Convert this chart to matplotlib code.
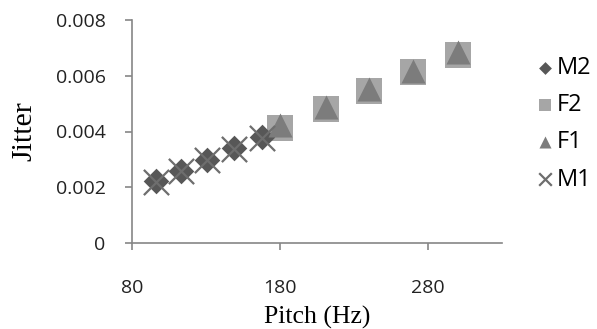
import matplotlib
matplotlib.use("Agg")
import matplotlib.pyplot as plt

m_pitch = [96, 113, 131, 149, 168]
m2_jitter = [0.00222, 0.00260, 0.00298, 0.00340, 0.00380]
m1_jitter = [0.00220, 0.00258, 0.00296, 0.00338, 0.00378]
f_pitch = [180, 211, 240, 270, 300]
f2_jitter = [0.00412, 0.00482, 0.00545, 0.00612, 0.00674]
f1_jitter = [0.00425, 0.00488, 0.00552, 0.00618, 0.00685]
x_ticks = [80, 180, 280]
y_ticks = [0, 0.002, 0.004, 0.006, 0.008]
y_labels = ["0", "0.002", "0.004", "0.006", "0.008"]

W, H = 597, 329
fig = plt.figure(figsize=(W / 100, H / 100), dpi=100)
ax = fig.add_axes([132 / W, 1 - 243 / H, (502 - 132) / W, (243 - 20) / H])

ax.scatter(m_pitch, m2_jitter, marker="D", s=170, color="#575757", label="M2", zorder=3, linewidths=0)
ax.scatter(f_pitch, f2_jitter, marker="s", s=330, color="#a6a6a6", label="F2", zorder=2, linewidths=0)
ax.scatter(f_pitch, f1_jitter, marker="^", s=300, color="#7c7c7c", label="F1", zorder=4, linewidths=0)
ax.scatter(m_pitch, m1_jitter, marker="x", s=330, color="#6e6e6e", label="M1", zorder=5, linewidths=1.6)

ax.set_xlim(80, 330)
ax.set_ylim(0, 0.008)
ax.set_xticks(x_ticks)
ax.set_yticks(y_ticks)
ax.set_yticklabels(y_labels)

for s in ["top", "right"]:
    ax.spines[s].set_visible(False)
for s in ["left", "bottom"]:
    ax.spines[s].set_color("#868686")
    ax.spines[s].set_linewidth(1.2)
ax.tick_params(axis="both", colors="#868686", labelcolor="#222222", length=5, width=1.2,
               labelsize=14)
ax.tick_params(axis="x", pad=21)
ax.tick_params(axis="y", pad=14)
for lab in ax.get_xticklabels() + ax.get_yticklabels():
    lab.set_family("Open Sans")

fig.text(317 / W, 1 - 324 / H, "Pitch (Hz)", family="Liberation Serif", fontsize=18.5,
         ha="center", va="baseline")
fig.text(24 / W, 1 - 131 / H, "Jitter", family="Liberation Serif", fontsize=21.5,
         ha="center", va="center", rotation=90)

leg = ax.legend(loc="upper left", bbox_to_anchor=(534 / W, 1 - 56 / H),
                bbox_transform=fig.transFigure, frameon=False,
                prop={"family": "Open Sans", "size": 17}, handletextpad=0.05,
                labelspacing=0.56, markerscale=0.5, handlelength=0.9,
                borderpad=0, borderaxespad=0)
fig.savefig("out.png", dpi=100)
